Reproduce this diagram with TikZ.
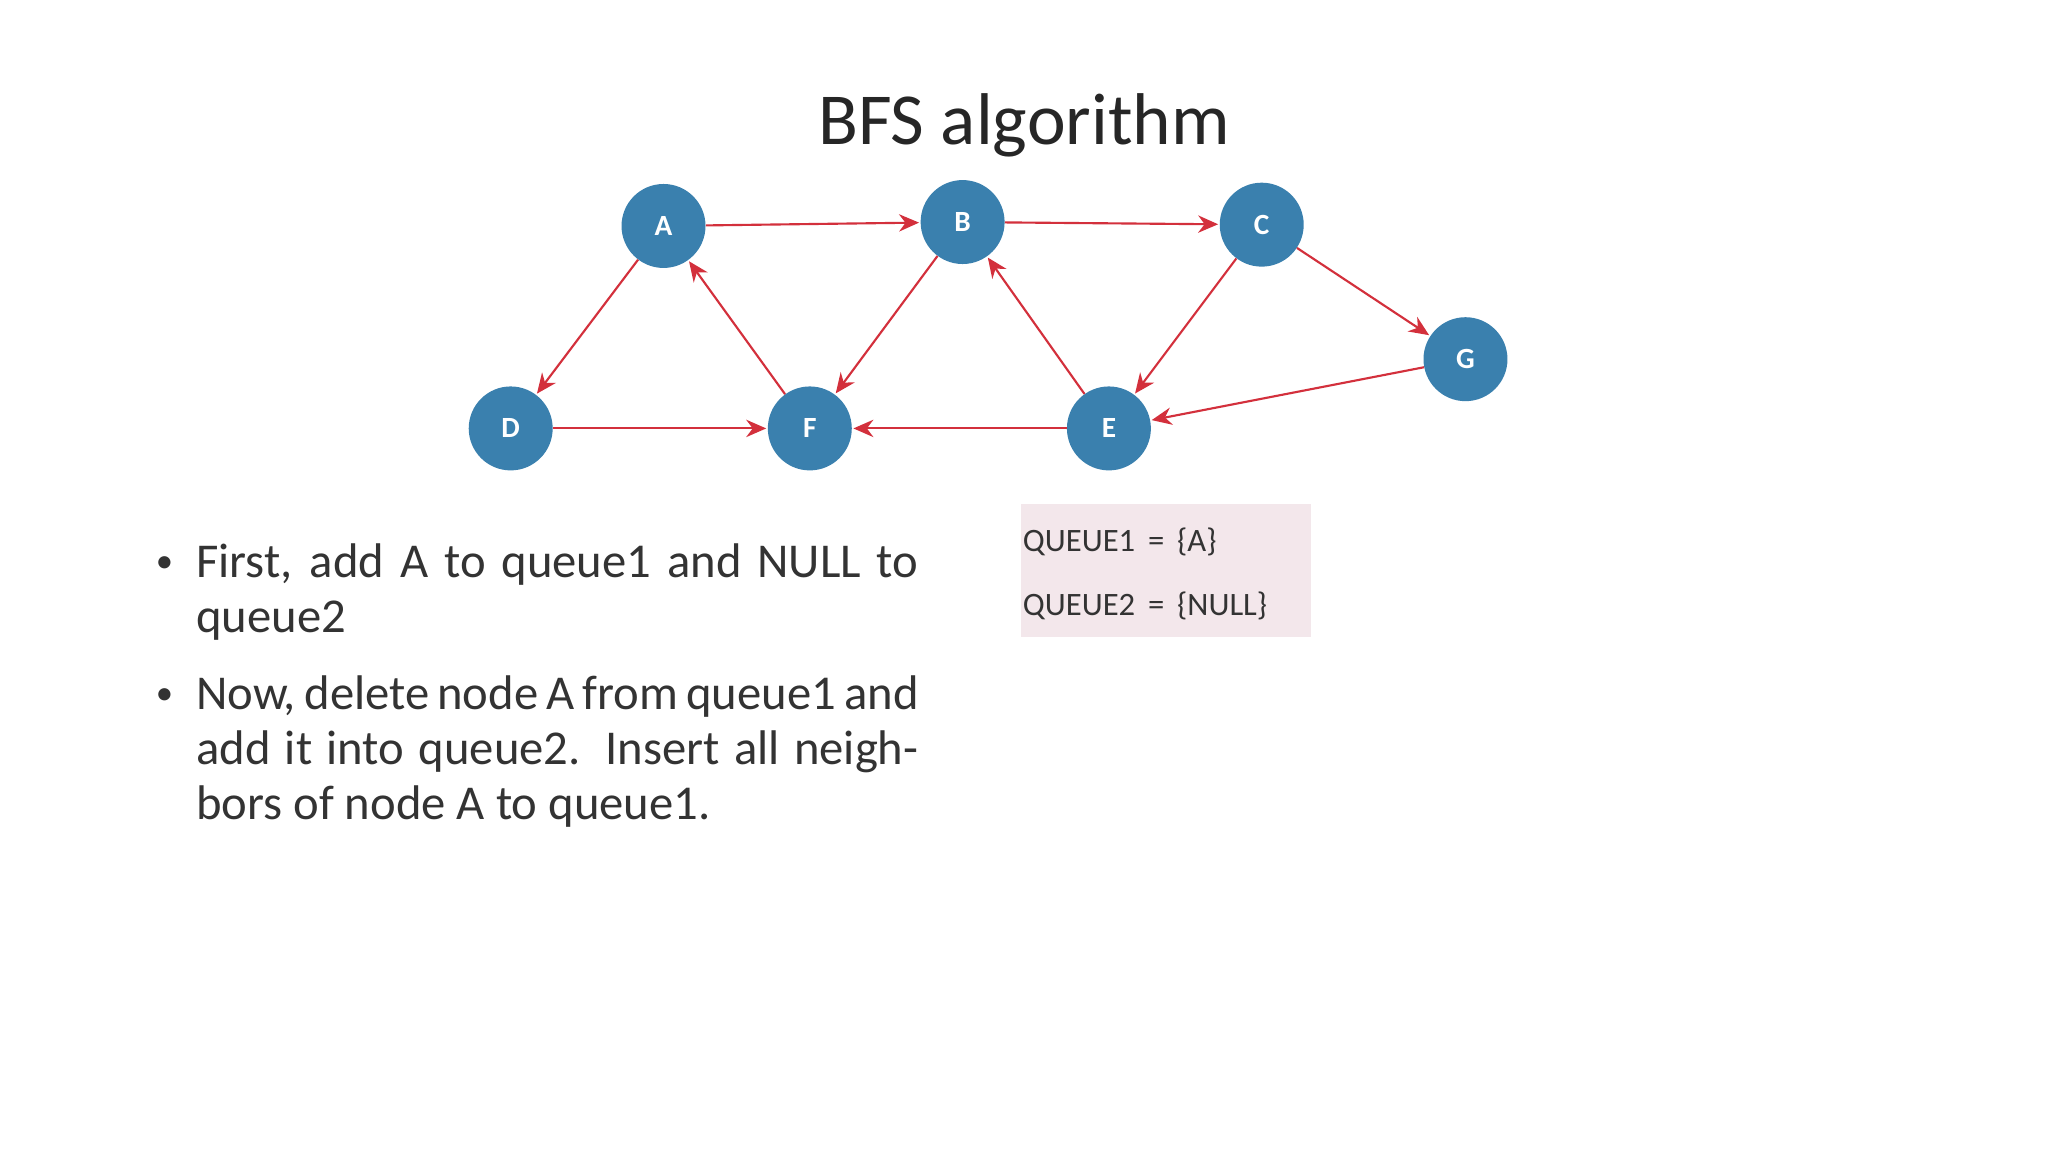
\documentclass[tikz,border=0pt]{standalone}
\usepackage{fontspec}
\setmainfont{Carlito}
\usetikzlibrary{arrows.meta}
\definecolor{nodeblue}{HTML}{3A80AE}
\definecolor{edgered}{HTML}{D3303C}
\definecolor{qbg}{HTML}{F3E7EB}
\begin{document}
\begin{tikzpicture}[x=0.98pt,y=-0.98pt,
  vtx/.style={circle,fill=nodeblue,minimum size=63pt,inner sep=0pt,text=white,font=\fontsize{22}{24}\selectfont\bfseries},
  edge/.style={draw=edgered,line width=1.6pt,-{Stealth[length=15pt,width=13pt]},shorten >=1pt},
  qtext/.style={anchor=west,font=\fontsize{24.5}{28}\selectfont,text=black!80,inner sep=0pt},
  bullet/.style={anchor=north west,text width=542pt,align=justify,font=\fontsize{36.5}{41.5}\selectfont,text=black!80,inner sep=0pt}]
\useasboundingbox (0,0) rectangle (1568,882);
\node[font=\fontsize{55}{60}\selectfont,text=black!85] (title) at (784,96) {BFS algorithm};
\node[vtx] (A) at (508,173) {A};
\node[vtx] (B) at (737,170) {B};
\node[vtx] (C) at (966,172) {C};
\node[vtx] (G) at (1122,275) {G};
\node[vtx] (D) at (391,328) {D};
\node[vtx] (F) at (620,328) {F};
\node[vtx] (E) at (849,328) {E};
\draw[edge] (A) -- (B);
\draw[edge] (B) -- (C);
\draw[edge] (C) -- (G);
\draw[edge] (G) -- (E);
\draw[edge] (E) -- (F);
\draw[edge] (D) -- (F);
\draw[edge] (A) -- (D);
\draw[edge] (F) -- (A);
\draw[edge] (B) -- (F);
\draw[edge] (E) -- (B);
\draw[edge] (C) -- (E);
\fill[qbg] (782,386) rectangle (1004,488);
\node[qtext] (q1) at (783,415) {QUEUE1 \,=\, \{A\}};
\node[qtext] (q2) at (783,464) {QUEUE2 \,=\, \{NULL\}};
\node[font=\fontsize{26}{30}\selectfont,text=black!80] (b1) at (126,432) {\textbullet};
\node[bullet] (t1) at (150,416) {First, add A to queue1 and NULL to queue2};
\node[font=\fontsize{26}{30}\selectfont,text=black!80] (b2) at (126,533) {\textbullet};
\node[bullet] (t2) at (150,517) {Now, delete node A from queue1 and add it into queue2. Insert all neighbors of node A to queue1.};
\end{tikzpicture}
\end{document}
